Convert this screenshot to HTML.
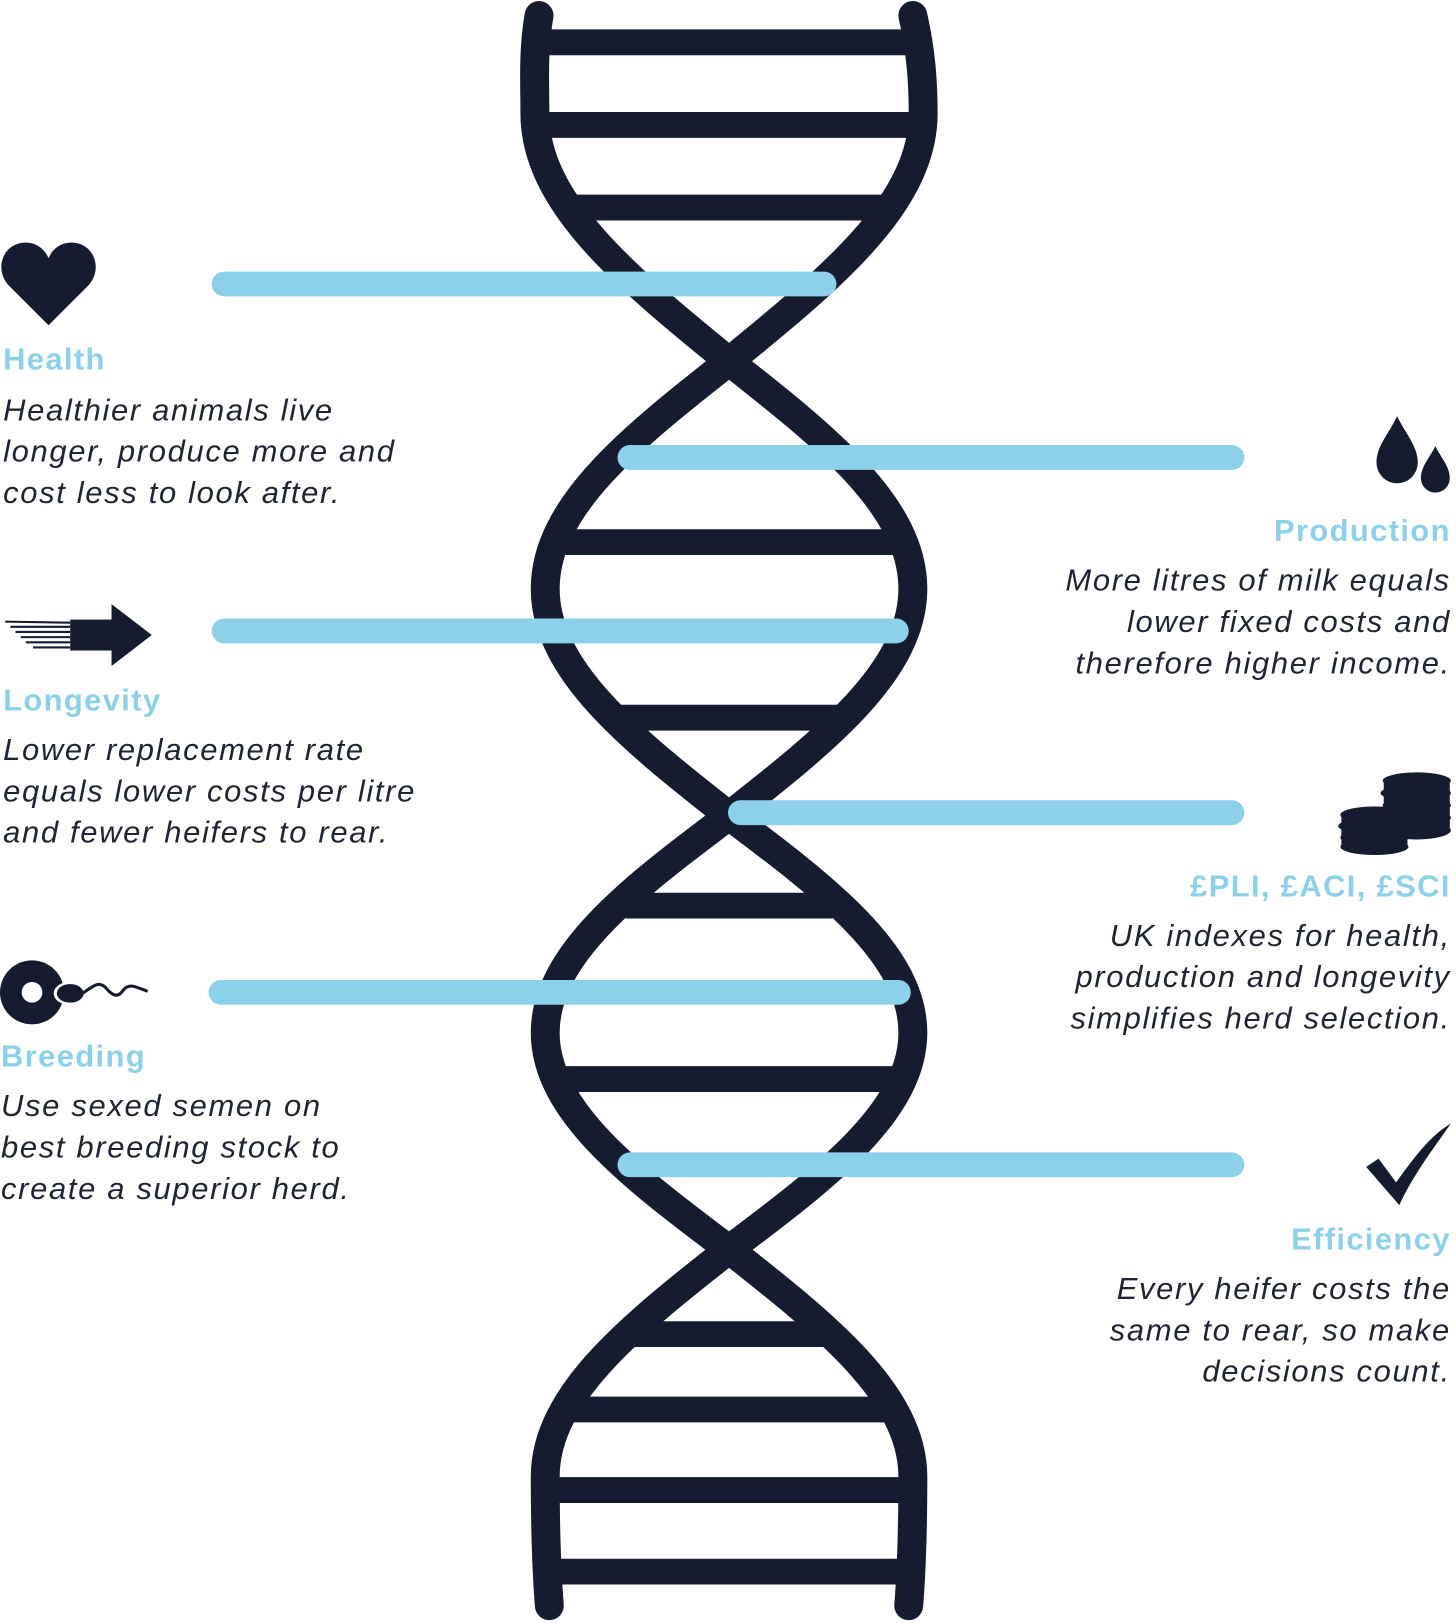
<!DOCTYPE html>
<html><head><meta charset="utf-8"><style>
html,body{margin:0;padding:0;background:#fff;}
svg{display:block;}
.h{font-family:"Liberation Sans",sans-serif;font-weight:bold;font-size:30px;fill:#8dd0ea;letter-spacing:1.3px;}
.b{font-family:"Liberation Sans",sans-serif;font-style:italic;font-size:30px;fill:#1e2336;letter-spacing:1.6px;}
.r{text-anchor:end;}
</style></head><body>
<svg width="1456" height="1624" viewBox="0 0 1410 1572.7" preserveAspectRatio="none" xmlns="http://www.w3.org/2000/svg">
<g stroke="#161c30" stroke-width="25" fill="none">
<line x1="520" y1="41" x2="892" y2="41"/>
<line x1="520" y1="121" x2="892" y2="121"/>
<line x1="545" y1="201" x2="867" y2="201"/>
<line x1="532" y1="525" x2="880" y2="525"/>
<line x1="590" y1="695" x2="822" y2="695"/>
<line x1="606" y1="877" x2="806" y2="877"/>
<line x1="535" y1="1045" x2="877" y2="1045"/>
<line x1="612" y1="1292" x2="800" y2="1292"/>
<line x1="545" y1="1365" x2="868" y2="1365"/>
<line x1="528" y1="1443" x2="884" y2="1443"/>
<line x1="530" y1="1522" x2="882" y2="1522"/>
</g>
<g stroke="#161c30" stroke-width="28" fill="none" stroke-linecap="round">
<path d="M522,15 C516,50 518,80 518,110 C518,197 608,270 706,350 C799.5,423.5 884,490.4 884,570 C884,649.6 799.5,716.5 706,790 C612.5,860.2 528,924.1 528,1000 C528,1075.9 612.5,1139.8 706,1210 C799.5,1283.5 884,1350.4 884,1430 C884,1490 882,1530 880,1555"/>
<path d="M884,15 C892,50 894,80 894,110 C894,197 804,270 706,350 C612.5,423.5 528,490.4 528,570 C528,649.6 612.5,716.5 706,790 C799.5,860.2 884,924.1 884,1000 C884,1075.9 799.5,1139.8 706,1210 C612.5,1283.5 528,1350.4 528,1430 C528,1490 530,1530 532,1555"/>
</g>
<g stroke="#8dd0ea" stroke-width="24" stroke-linecap="round">
<line x1="217" y1="275" x2="798" y2="275"/>
<line x1="610" y1="443" x2="1193" y2="443"/>
<line x1="217" y1="611" x2="868" y2="611"/>
<line x1="717" y1="787" x2="1193" y2="787"/>
<line x1="214" y1="961" x2="870" y2="961"/>
<line x1="610" y1="1128" x2="1193" y2="1128"/>
</g>
<g fill="#161c30">
<path d="M47,315 L8,276 C-6,260 3,235 25,235 C37,235 44,243 47,250 C50,243 57,235 69,235 C91,235 100,260 86,276 Z"/>
<path d="M1353,403 C1345,420 1333,432 1333,448 A20,20 0 0 0 1373,448 C1373,432 1361,420 1353,403Z"/>
<path d="M1390,432 C1384,444 1376,452 1376,463 A14,14 0 0 0 1404,463 C1404,452 1396,444 1390,432Z"/>
<rect x="68" y="600" width="44" height="30"/>
<path d="M108,585 L147,615 L108,645Z"/>
<g stroke="#161c30" stroke-width="2">
<line x1="5" y1="602" x2="68" y2="603"/><line x1="10" y1="607" x2="68" y2="607"/><line x1="15" y1="612" x2="68" y2="612"/>
<line x1="20" y1="617" x2="68" y2="617"/><line x1="25" y1="622" x2="68" y2="622"/><line x1="32" y1="627" x2="68" y2="627"/>
</g>
<ellipse cx="1372" cy="756" rx="33" ry="8"/>
<ellipse cx="1371" cy="768" rx="34" ry="8"/>
<ellipse cx="1372" cy="780" rx="33" ry="8"/>
<ellipse cx="1371" cy="792" rx="34" ry="8"/>
<ellipse cx="1372" cy="804" rx="33" ry="9"/>
<rect x="1340" y="756" width="64" height="48"/>
<ellipse cx="1331" cy="789" rx="33" ry="8"/>
<ellipse cx="1330" cy="800" rx="34" ry="8"/>
<ellipse cx="1331" cy="811" rx="33" ry="8"/>
<ellipse cx="1331" cy="820" rx="33" ry="8"/>
<rect x="1299" y="789" width="64" height="31"/>
<circle cx="31" cy="961" r="31"/>
<circle cx="31" cy="961" r="10" fill="#fff"/>
<ellipse cx="67" cy="962" rx="15" ry="11" fill="#fff"/>
<ellipse cx="68" cy="962" rx="13" ry="9"/>
<path d="M80,962 C90,955 95,950 102,956 C110,966 115,966 120,958 C126,952 132,956 143,960" fill="none" stroke="#161c30" stroke-width="3"/>
<path d="M1323,1130 L1335,1122 L1352,1145 C1370,1120 1385,1100 1405,1088 C1390,1110 1370,1135 1355,1167 Z"/>
</g>
<text class="h" x="3" y="358">Health</text>
<text class="b" x="3" y="407">Healthier animals live</text>
<text class="b" x="3" y="447">longer, produce more and</text>
<text class="b" x="3" y="487">cost less to look after.</text>
<text class="h" x="3" y="688">Longevity</text>
<text class="b" x="3" y="736">Lower replacement rate</text>
<text class="b" x="3" y="776">equals lower costs per litre</text>
<text class="b" x="3" y="816">and fewer heifers to rear.</text>
<text class="h" x="1" y="1033">Breeding</text>
<text class="b" x="1" y="1081">Use sexed semen on</text>
<text class="b" x="1" y="1121">best breeding stock to</text>
<text class="b" x="1" y="1161">create a superior herd.</text>
<text class="h r" x="1405" y="524">Production</text>
<text class="b r" x="1405" y="572">More litres of milk equals</text>
<text class="b r" x="1405" y="612">lower fixed costs and</text>
<text class="b r" x="1405" y="652">therefore higher income.</text>
<text class="h r" x="1405" y="868">£PLI, £ACI, £SCI</text>
<text class="b r" x="1405" y="916">UK indexes for health,</text>
<text class="b r" x="1405" y="956">production and longevity</text>
<text class="b r" x="1405" y="996">simplifies herd selection.</text>
<text class="h r" x="1405" y="1210">Efficiency</text>
<text class="b r" x="1405" y="1258">Every heifer costs the</text>
<text class="b r" x="1405" y="1298">same to rear, so make</text>
<text class="b r" x="1405" y="1338">decisions count.</text>
</svg>
</body></html>
